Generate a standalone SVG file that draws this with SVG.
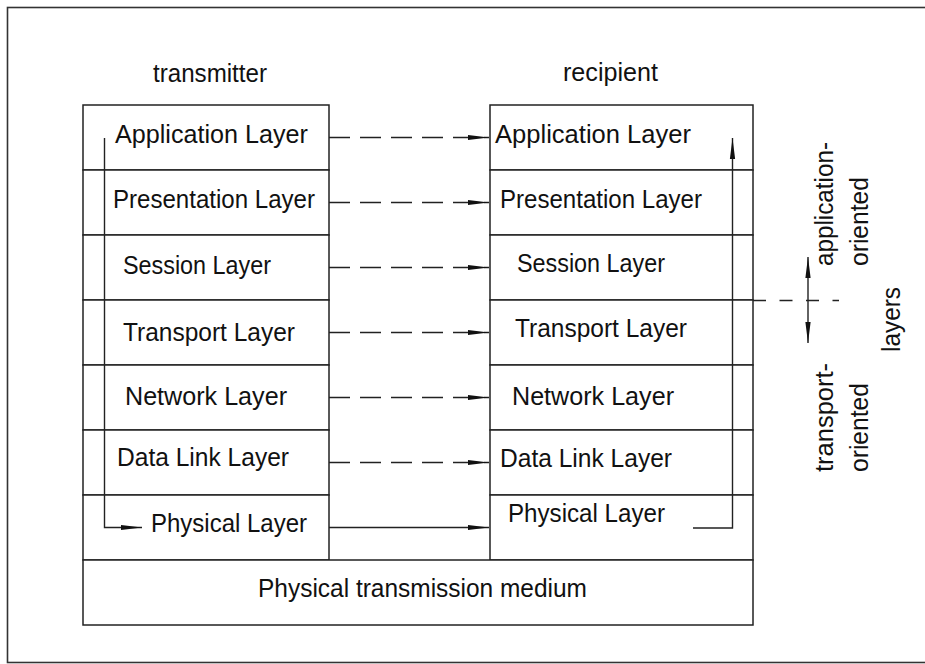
<svg xmlns="http://www.w3.org/2000/svg" width="925" height="664" viewBox="0 0 925 664">
  <style>
    .box { fill: #ffffff; stroke: #222222; stroke-width: 1.5; }
    .frame { fill: #ffffff; stroke: #333333; stroke-width: 1.6; }
    .lbl { font-family: "Liberation Sans", Arial, sans-serif; font-size: 25px; fill: #111111; }
    .mid { text-anchor: middle; }
    .ln { fill: none; stroke: #222222; stroke-width: 1.4; }
    .dash { stroke-dasharray: 21 10; }
    .dash2 { stroke-dasharray: 13 13.5; }
  </style>
  <defs>
    <marker id="ah" markerUnits="userSpaceOnUse" markerWidth="22" markerHeight="8" refX="21" refY="4" orient="auto">
      <path d="M0,1.4 L21,4 L0,6.6 Z" fill="#111111"/>
    </marker>
    <marker id="ahs" markerUnits="userSpaceOnUse" markerWidth="22" markerHeight="8" refX="21" refY="4" orient="auto-start-reverse">
      <path d="M0,1.4 L21,4 L0,6.6 Z" fill="#111111"/>
    </marker>
  </defs>

  <rect class="frame" x="7.5" y="7.5" width="940" height="655"/>

  <g id="label-transmitter"><text class="lbl" x="153" y="82" textLength="114" lengthAdjust="spacingAndGlyphs">transmitter</text></g>
  <g id="label-recipient"><text class="lbl" x="563" y="81" textLength="95" lengthAdjust="spacingAndGlyphs">recipient</text></g>

  <!-- transmitter stack -->
  <g id="tx-application"><rect class="box" x="83" y="105" width="246" height="65"/><text class="lbl" x="115" y="143" textLength="193" lengthAdjust="spacingAndGlyphs">Application Layer</text></g>
  <g id="tx-presentation"><rect class="box" x="83" y="170" width="246" height="65"/><text class="lbl" x="113" y="208" textLength="202" lengthAdjust="spacingAndGlyphs">Presentation Layer</text></g>
  <g id="tx-session"><rect class="box" x="83" y="235" width="246" height="65"/><text class="lbl" x="123" y="274" textLength="148" lengthAdjust="spacingAndGlyphs">Session Layer</text></g>
  <g id="tx-transport"><rect class="box" x="83" y="300" width="246" height="65"/><text class="lbl" x="123" y="341" textLength="172" lengthAdjust="spacingAndGlyphs">Transport Layer</text></g>
  <g id="tx-network"><rect class="box" x="83" y="365" width="246" height="65"/><text class="lbl" x="125" y="405" textLength="162" lengthAdjust="spacingAndGlyphs">Network Layer</text></g>
  <g id="tx-datalink"><rect class="box" x="83" y="430" width="246" height="65"/><text class="lbl" x="117" y="466" textLength="172" lengthAdjust="spacingAndGlyphs">Data Link Layer</text></g>
  <g id="tx-physical"><rect class="box" x="83" y="495" width="246" height="65"/><text class="lbl" x="151" y="532" textLength="156" lengthAdjust="spacingAndGlyphs">Physical Layer</text></g>

  <!-- recipient stack -->
  <g id="rx-application"><rect class="box" x="490" y="105" width="263" height="65"/><text class="lbl" x="495" y="143" textLength="196" lengthAdjust="spacingAndGlyphs">Application Layer</text></g>
  <g id="rx-presentation"><rect class="box" x="490" y="170" width="263" height="65"/><text class="lbl" x="500" y="208" textLength="202" lengthAdjust="spacingAndGlyphs">Presentation Layer</text></g>
  <g id="rx-session"><rect class="box" x="490" y="235" width="263" height="65"/><text class="lbl" x="517" y="272" textLength="148" lengthAdjust="spacingAndGlyphs">Session Layer</text></g>
  <g id="rx-transport"><rect class="box" x="490" y="300" width="263" height="65"/><text class="lbl" x="515" y="337" textLength="172" lengthAdjust="spacingAndGlyphs">Transport Layer</text></g>
  <g id="rx-network"><rect class="box" x="490" y="365" width="263" height="65"/><text class="lbl" x="512" y="405" textLength="162" lengthAdjust="spacingAndGlyphs">Network Layer</text></g>
  <g id="rx-datalink"><rect class="box" x="490" y="430" width="263" height="65"/><text class="lbl" x="500" y="467" textLength="172" lengthAdjust="spacingAndGlyphs">Data Link Layer</text></g>
  <g id="rx-physical"><rect class="box" x="490" y="495" width="263" height="65"/><text class="lbl" x="508" y="522" textLength="157" lengthAdjust="spacingAndGlyphs">Physical Layer</text></g>

  <!-- medium -->
  <g id="medium"><rect class="box" x="83" y="560" width="670" height="65"/><text class="lbl" x="258" y="597" textLength="329" lengthAdjust="spacingAndGlyphs">Physical transmission medium</text></g>

  <!-- side labels -->
  <g id="label-application-oriented">
    <text class="lbl" transform="translate(833,266) rotate(-90)" textLength="124" lengthAdjust="spacingAndGlyphs">application-</text>
    <text class="lbl" transform="translate(868,266) rotate(-90)" textLength="89" lengthAdjust="spacingAndGlyphs">oriented</text>
  </g>
  <g id="label-transport-oriented">
    <text class="lbl" transform="translate(833,472) rotate(-90)" textLength="109" lengthAdjust="spacingAndGlyphs">transport-</text>
    <text class="lbl" transform="translate(868,472) rotate(-90)" textLength="89" lengthAdjust="spacingAndGlyphs">oriented</text>
  </g>
  <g id="label-layers">
    <text class="lbl" transform="translate(900,352) rotate(-90)" textLength="65" lengthAdjust="spacingAndGlyphs">layers</text>
  </g>

  <g id="connectors">
    <line class="ln dash" x1="329" y1="137.5" x2="489" y2="137.5" marker-end="url(#ah)"/>
    <line class="ln dash" x1="329" y1="202.5" x2="489" y2="202.5" marker-end="url(#ah)"/>
    <line class="ln dash" x1="329" y1="267.5" x2="489" y2="267.5" marker-end="url(#ah)"/>
    <line class="ln dash" x1="329" y1="332.5" x2="489" y2="332.5" marker-end="url(#ah)"/>
    <line class="ln dash" x1="329" y1="397.5" x2="489" y2="397.5" marker-end="url(#ah)"/>
    <line class="ln dash" x1="329" y1="462.5" x2="489" y2="462.5" marker-end="url(#ah)"/>
    <line class="ln" x1="329" y1="527.5" x2="489" y2="527.5" marker-end="url(#ah)"/>
    <!-- transmitter downward path -->
    <polyline class="ln" points="104.5,138 104.5,527.5 142,527.5" marker-end="url(#ah)"/>
    <!-- recipient upward path -->
    <polyline class="ln" points="693,528 732.5,528 732.5,138" marker-end="url(#ah)"/>
    <!-- boundary between layer groups -->
    <line class="ln dash2" x1="753" y1="300.5" x2="839" y2="300.5"/>
    <line class="ln" x1="808" y1="257" x2="808" y2="343" marker-start="url(#ahs)" marker-end="url(#ah)"/>
  </g>
</svg>
